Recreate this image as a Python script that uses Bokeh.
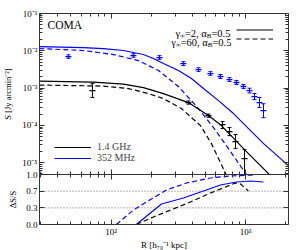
from bokeh.plotting import figure
from bokeh.layouts import column
from bokeh.models import (Range1d, LogAxis, LinearAxis, FixedTicker, CustomJSTickFormatter,
                          PrintfTickFormatter, Label, Legend, LegendItem, Span)
from bokeh.embed import file_html
from bokeh.resources import INLINE

FONT = "Liberation Serif"
BLUE = "#0000ff"
BLACK = "#000000"
AX = "#333333"

# ---------------- data ----------------
# model curves, surface brightness S [Jy arcmin^-2] vs R [kpc]
r_352_g2 = [29.2, 62.2, 87.7, 123.5, 174, 206.5, 245, 317, 396, 487, 630, 814, 1364, 2090]
s_352_g2 = [1.30e-2, 1.222e-2, 1.148e-2, 1.016e-2, 7.93e-3, 6.20e-3, 4.55e-3, 2.95e-3,
            1.80e-3, 9.70e-4, 4.61e-4, 2.07e-4, 3.24e-5, 8.3e-6]
r_352_g60 = [29.2, 62.2, 104, 159.5, 225, 317, 447, 578, 747, 1016]
s_352_g60 = [1.148e-2, 1.016e-2, 7.93e-3, 5.47e-3, 2.95e-3, 1.10e-3, 2.82e-4, 8.71e-5,
             2.38e-5, 4.76e-6]
r_14_g2 = [29.2, 73.8, 123.5, 174, 245, 376, 530, 662, 1000, 1535]
s_14_g2 = [1.54e-3, 1.45e-3, 1.28e-3, 1.03e-3, 7.11e-4, 4.08e-4, 1.83e-4, 9.84e-5,
           2.10e-5, 4.48e-6]
r_14_g60 = [29.2, 87.7, 134.5, 190, 245, 334, 462, 558, 662, 722]
s_14_g60 = [1.205e-3, 1.13e-3, 9.70e-4, 7.11e-4, 5.22e-4, 2.82e-4, 9.84e-5, 3.24e-5,
            8.84e-6, 4.48e-6]

# observed profiles
obs_352_r = [48.1, 146.6, 229, 345, 447, 548, 651, 760, 857, 966, 1071, 1167, 1271, 1361]
obs_352_s = [7.01e-3, 7.45e-3, 6.59e-3, 4.55e-3, 3.14e-3, 2.45e-3, 2.04e-3, 1.69e-3,
             1.41e-3, 1.10e-3, 8.57e-4, 5.91e-4, 4.08e-4, 2.49e-4]
obs_352_lo = [6.3e-3, 6.7e-3, 5.9e-3, 4.0e-3, 2.8e-3, 2.2e-3, 1.8e-3, 1.5e-3,
              1.25e-3, 0.97e-3, 7.4e-4, 4.9e-4, 3.0e-4, 1.6e-4]
obs_352_hi = [7.8e-3, 8.3e-3, 7.4e-3, 5.1e-3, 3.5e-3, 2.75e-3, 2.3e-3, 1.9e-3,
              1.6e-3, 1.25e-3, 9.9e-4, 7.1e-4, 5.6e-4, 3.8e-4]

obs_14_r = [72.6, 376, 530, 675, 760, 843, 984]
obs_14_s = [8.57e-4, 4.08e-4, 1.83e-4, 1.05e-4, 6.79e-5, 3.66e-5, 1.28e-5]
obs_14_lo = [5.56e-4, 3.7e-4, 1.65e-4, 8.2e-5, 5.3e-5, 2.38e-5, 4.0e-6]
obs_14_hi = [1.32e-3, 4.5e-4, 2.0e-4, 1.26e-4, 8.7e-5, 5.65e-5, 2.23e-5]

# bottom panel: Delta S / S
d_352_g60_r = [109.5, 146.6, 183, 258, 364, 548, 773, 1148]
d_352_g60_f = [0.0, 0.29, 0.45, 0.69, 0.83, 0.93, 0.97, 0.99]
d_352_g2_r = [154, 237, 345, 486, 651, 857, 1089, 1361]
d_352_g2_f = [0.0, 0.41, 0.53, 0.67, 0.79, 0.85, 0.87, 0.85]
d_14_g60_r = [154, 206.5, 277, 389, 548, 710, 843, 919, 1052]
d_14_g60_f = [0.0, 0.15, 0.29, 0.45, 0.63, 0.75, 0.83, 0.81, 0.67]

x_major = [100, 1000]
y_major = [1e-5, 1e-4, 1e-3, 1e-2, 1e-1]
frac_ticks = [0.0, 1 / 3, 2 / 3, 1.0]

legend_freq = ["1.4 GHz", "352 MHz"]
title_text = "COMA"

# ---------------- helpers ----------------
x_minor = [m * 10 ** d for d in (1, 2, 3) for m in range(2, 10) if 29.3 <= m * 10 ** d <= 2090]
y_minor = [m * 10.0 ** d for d in (-6, -5, -4, -3, -2) for m in range(2, 10)
           if 4.8e-6 <= m * 10.0 ** d <= 0.1]

pow_fmt_code = """
const sup = {"-": "\u207b", "0": "\u2070", "1": "\u00b9", "2": "\u00b2", "3": "\u00b3",
             "4": "\u2074", "5": "\u2075", "6": "\u2076", "7": "\u2077", "8": "\u2078", "9": "\u2079"};
const e = Math.round(Math.log10(tick));
return "10" + String(e).split("").map((c) => sup[c]).join("");
"""


def style_axis(ax, show, label_standoff=2):
    ax.axis_line_color = AX
    ax.axis_line_width = 1
    ax.major_tick_in = 5
    ax.major_tick_out = 0
    ax.minor_tick_in = 3
    ax.minor_tick_out = 0
    ax.major_tick_line_color = AX
    ax.minor_tick_line_color = AX
    ax.major_label_text_font = FONT
    ax.major_label_text_color = BLACK
    if show:
        ax.major_label_text_font_size = "9px"
        ax.major_label_standoff = 2
    else:
        ax.major_label_text_font_size = "1px"
        ax.major_label_standoff = 0
        ax.major_label_text_alpha = 0
        ax.formatter = CustomJSTickFormatter(code="return '';")
    ax.axis_label_text_font = FONT
    ax.axis_label_text_font_size = "8.5px"
    ax.axis_label_text_font_style = "normal"
    ax.axis_label_text_color = BLACK
    ax.axis_label_standoff = label_standoff


def xticker():
    return FixedTicker(ticks=x_major, minor_ticks=x_minor)


# ---------------- top panel ----------------
p1 = figure(frame_width=249, frame_height=161, x_axis_type="log", y_axis_type="log",
            x_range=Range1d(29.3, 2090), y_range=Range1d(4.8e-6, 0.1),
            output_backend="svg", toolbar_location=None,
            min_border_left=36, min_border_right=15, min_border_top=13, min_border_bottom=0)
p1.outline_line_color = None
p1.xgrid.visible = False
p1.ygrid.visible = False

p1.xaxis.ticker = xticker()
p1.yaxis.ticker = FixedTicker(ticks=y_major, minor_ticks=y_minor)
p1.yaxis.formatter = CustomJSTickFormatter(code=pow_fmt_code)
p1.yaxis.axis_label = "S [Jy arcmin\u207b\u00b2]"
for ax in p1.xaxis:
    style_axis(ax, False)
for ax in p1.yaxis:
    style_axis(ax, True, label_standoff=6)
top1 = LogAxis(ticker=xticker())
right1 = LogAxis(ticker=FixedTicker(ticks=y_major, minor_ticks=y_minor))
style_axis(top1, False)
style_axis(right1, False)
p1.add_layout(top1, "above")
p1.add_layout(right1, "right")

DASH = "5 3"
LW = 1.2
r_b_sol = p1.line(r_352_g2, s_352_g2, line_color=BLUE, line_width=LW)
p1.line(r_352_g60, s_352_g60, line_color=BLUE, line_width=LW, line_dash=DASH)
r_k_sol = p1.line(r_14_g2, s_14_g2, line_color=BLACK, line_width=LW)
r_k_dash = p1.line(r_14_g60, s_14_g60, line_color=BLACK, line_width=LW, line_dash=DASH)


def errpoints(p, x, y, lo, hi, color):
    p.segment(x0=x, y0=lo, x1=x, y1=hi, line_color=color, line_width=1)
    p.scatter(x=x, y=lo, marker="dash", size=4, line_color=color, line_width=1)
    p.scatter(x=x, y=hi, marker="dash", size=4, line_color=color, line_width=1)
    p.scatter(x=x, y=y, marker="dash", size=6, line_color=color, line_width=1.3)


errpoints(p1, obs_352_r, obs_352_s, obs_352_lo, obs_352_hi, BLUE)
errpoints(p1, obs_14_r, obs_14_s, obs_14_lo, obs_14_hi, BLACK)

p1.add_layout(Label(x=8, y=150, x_units="screen", y_units="screen", text=title_text,
                    text_font=FONT, text_font_size="11.5px", text_baseline="middle",
                    text_color=BLACK))

# model legend (text left of the line sample)
leg_rows = [
    [("\u03b3", 10.5, 0, 0.42), ("\u221e", 7, -2.5, 0.713), ("=2, \u03b1", 10.5, 0, 2.084),
     ("B", 7, -2.5, 0.667), ("=0.5", 10.5, 0, 1.814)],
    [("\u03b3", 10.5, 0, 0.42), ("\u221e", 7, -2.5, 0.713), ("=60, \u03b1", 10.5, 0, 2.584),
     ("B", 7, -2.5, 0.667), ("=0.5", 10.5, 0, 1.814)],
]
row_right = [191, 192]
row_base = [141.5, 132.5]
for pieces, xr, yb in zip(leg_rows, row_right, row_base):
    total = sum(sz * w for _, sz, _, w in pieces)
    x = xr - total
    for txt, sz, dy, w in pieces:
        p1.add_layout(Label(x=x, y=yb + dy, x_units="screen", y_units="screen", text=txt,
                            text_font=FONT, text_font_size=f"{sz}px",
                            text_baseline="alphabetic", text_align="left", text_color=BLACK))
        x += sz * w

leg_model = Legend(items=[LegendItem(label="\u00a0", renderers=[r_k_sol]),
                          LegendItem(label="\u00a0", renderers=[r_k_dash])],
                   location=(197, 131), orientation="vertical",
                   glyph_width=37, glyph_height=9, label_height=9, label_width=1,
                   label_standoff=0, label_text_font_size="6px", spacing=0, padding=0,
                   margin=0, border_line_color=None, background_fill_alpha=0)
p1.add_layout(leg_model, "center")

leg_freq = Legend(items=[LegendItem(label=legend_freq[0], renderers=[r_k_sol]),
                         LegendItem(label=legend_freq[1], renderers=[r_b_sol])],
                  location=(15, 11), orientation="vertical",
                  glyph_width=37, glyph_height=10, label_height=10, label_standoff=6,
                  label_text_font=FONT, label_text_font_size="10px", spacing=0, padding=0,
                  margin=0, border_line_color=None, background_fill_alpha=0)
p1.add_layout(leg_freq, "center")

# ---------------- bottom panel ----------------
p2 = figure(frame_width=249, frame_height=50, x_axis_type="log",
            x_range=p1.x_range, y_range=Range1d(0, 1),
            output_backend="svg", toolbar_location=None,
            min_border_left=36, min_border_right=15, min_border_top=6, min_border_bottom=23)
p2.margin = (-6, 0, 0, 0)
p2.outline_line_color = None
p2.border_fill_color = None
p2.xgrid.visible = False
p2.ygrid.visible = False
p2.xaxis.ticker = xticker()
p2.xaxis.formatter = CustomJSTickFormatter(code=pow_fmt_code)
p2.xaxis.axis_label = "R [h\u2087\u2080\u207b\u00b9 kpc]"
p2.yaxis.ticker = FixedTicker(ticks=frac_ticks, minor_ticks=[])
p2.yaxis.formatter = PrintfTickFormatter(format="%.1f")
p2.yaxis.axis_label = "\u0394S/S"
for ax in p2.xaxis:
    style_axis(ax, True, label_standoff=0)
    ax.axis_label_text_font_size = "9px"
for ax in p2.yaxis:
    style_axis(ax, True, label_standoff=5)
top2 = LogAxis(ticker=xticker())
right2 = LinearAxis(ticker=FixedTicker(ticks=frac_ticks, minor_ticks=[]))
style_axis(top2, False)
style_axis(right2, False)
p2.add_layout(top2, "above")
p2.add_layout(right2, "right")

for v in frac_ticks[1:3]:
    p2.add_layout(Span(location=v, dimension="width", line_color="#444444",
                       line_dash="1 2", line_width=0.8))

p2.line(d_352_g60_r, d_352_g60_f, line_color=BLUE, line_width=LW, line_dash=DASH)
p2.line(d_352_g2_r, d_352_g2_f, line_color=BLUE, line_width=LW)
p2.line(d_14_g60_r, d_14_g60_f, line_color=BLACK, line_width=LW, line_dash=DASH)

layout = column(p1, p2, spacing=0)
open("out.html", "w", encoding="utf-8").write(file_html(layout, INLINE))
